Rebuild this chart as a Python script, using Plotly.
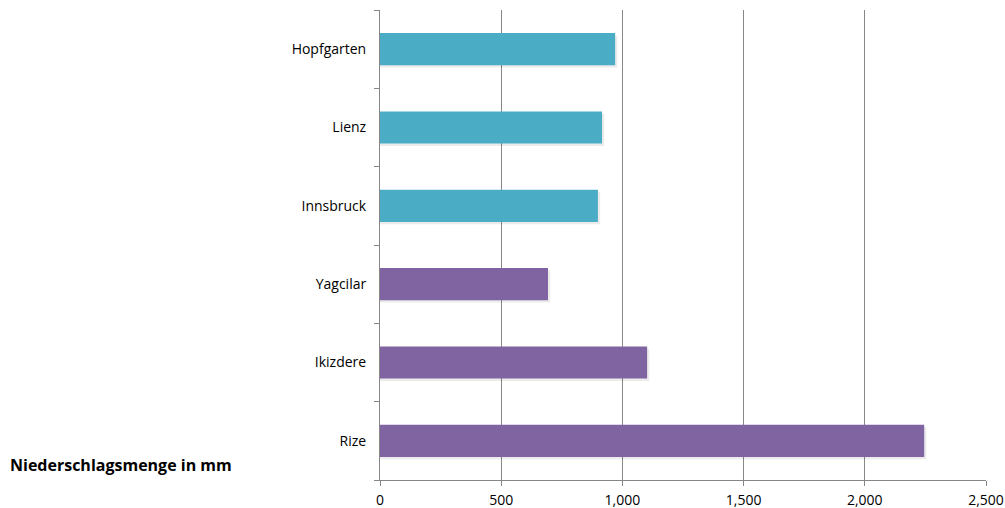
import plotly.graph_objects as go

categories = ["Rize", "Ikizdere", "Yagcilar", "Innsbruck", "Lienz", "Hopfgarten"]
values = [2245, 1102, 693, 899, 916, 970]
groups = ["Türkei", "Türkei", "Türkei", "Österreich", "Österreich", "Österreich"]
x_ticks = [0, 500, 1000, 1500, 2000, 2500]
title_text = "Niederschlagsmenge in mm"

color_map = {"Türkei": "#8064A2", "Österreich": "#4BACC6"}
bar_colors = [color_map[g] for g in groups]

bar_w = 0.41
fig = go.Figure()
# subtle drop shadow
fig.add_trace(go.Bar(
    y=categories, x=[v + 9 for v in values], orientation="h",
    marker=dict(color="rgba(0,0,0,0.08)", line=dict(width=0)),
    width=bar_w, offset=-bar_w / 2 - 0.03, showlegend=False, hoverinfo="skip",
))
fig.add_trace(go.Bar(
    y=categories, x=values, orientation="h",
    marker=dict(color=bar_colors, line=dict(width=0)),
    width=bar_w, offset=-bar_w / 2, showlegend=False, hoverinfo="x+y",
))

font_family = "Open Sans, Liberation Sans, sans-serif"
L, R, T, B = 380, 19, 10, 28
plot_w = 1005 - L - R
plot_h = 508 - T - B
fig.update_layout(
    width=1005, height=508, barmode="overlay",
    margin=dict(l=L, r=R, t=T, b=B),
    paper_bgcolor="white", plot_bgcolor="white",
    font=dict(family=font_family, size=14, color="#000000"),
    xaxis=dict(
        range=[0, 2500], tickvals=x_ticks, tickformat=",d",
        showgrid=True, gridcolor="#878787", gridwidth=1,
        showline=True, linecolor="#878787", linewidth=1,
        ticks="outside", ticklen=5, tickcolor="#878787",
        zeroline=False, tickfont=dict(size=14, family=font_family),
        ticklabelstandoff=2, automargin=False, fixedrange=True,
    ),
    yaxis=dict(
        categoryorder="array", categoryarray=categories,
        showline=True, linecolor="#878787", linewidth=1,
        ticks="outside", ticklen=5, tickcolor="#878787", tickson="boundaries",
        showgrid=False, ticklabelstandoff=10, automargin=False,
        tickfont=dict(size=14, family=font_family),
        fixedrange=True,
    ),
    annotations=[dict(
        text="<b>" + title_text + "</b>",
        x=(8 - L) / plot_w, y=(508 - B - 465) / plot_h,
        xref="paper", yref="paper",
        showarrow=False, xanchor="left", yanchor="middle",
        font=dict(size=16, family=font_family, color="#000000"),
    )],
)

fig.write_html("out.html")
